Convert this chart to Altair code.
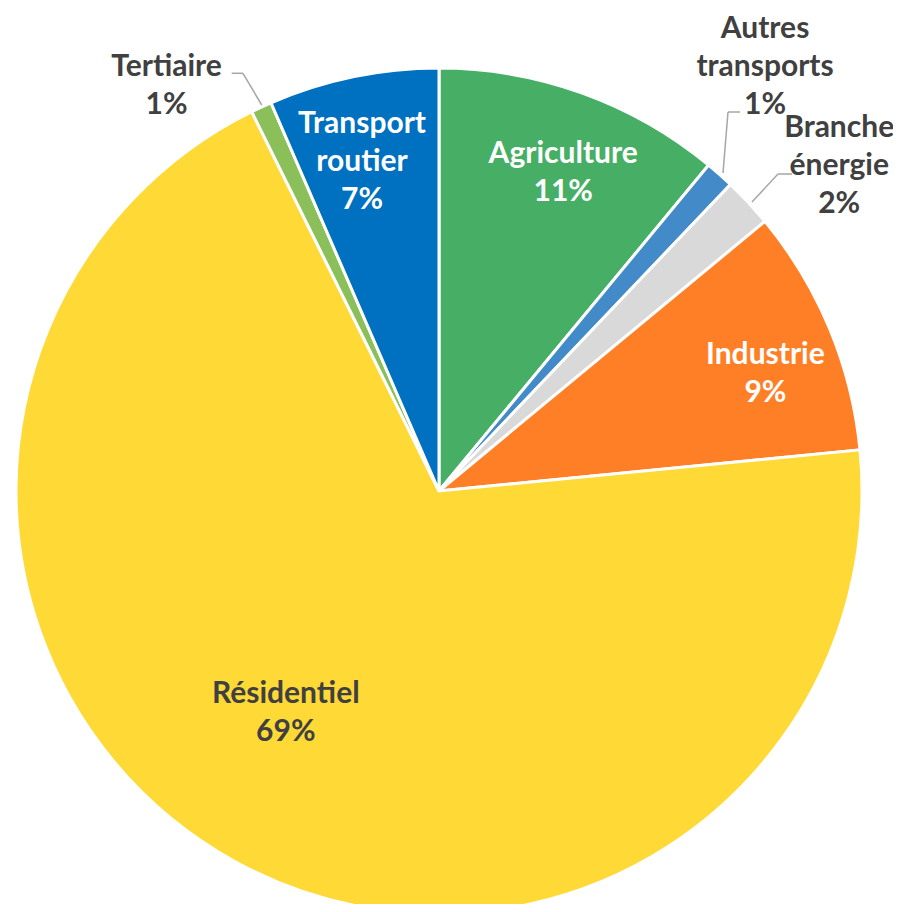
import altair as alt
import pandas as pd

categories = ["Agriculture", "Autres transports", "Branche énergie", "Industrie",
              "Résidentiel", "Tertiaire", "Transport routier"]
label_names = ["Agriculture", "Autres\ntransports", "Branche\nénergie", "Industrie",
               "Résidentiel", "Tertiaire", "Transport\nroutier"]
values = [11.0, 1.1, 1.9, 9.45, 69.25, 0.8, 6.5]
pct_labels = ["11%", "1%", "2%", "9%", "69%", "1%", "7%"]
colors = ["#47AE65", "#428BC8", "#D9D9D9", "#FF7F27", "#FFD935", "#8ABF5A", "#0070C0"]

df = pd.DataFrame({
    "category": categories,
    "value": values,
    "order": list(range(len(categories))),
    "label": [n + "\n" + p for n, p in zip(label_names, pct_labels)],
})

CX, CY, R = 431, 483, 423
FONT = "Lato"

base = alt.Chart(df).encode(
    theta=alt.Theta("value:Q", stack=True),
    order=alt.Order("order:Q", sort="ascending"),
)

arcs = base.mark_arc(outerRadius=R, stroke="white", strokeWidth=3).encode(
    color=alt.Color("category:N", scale=alt.Scale(domain=categories, range=colors), legend=None),
    x=alt.value(CX), y=alt.value(CY),
)

# per-label styling: (category, radius, dx, dy, color)
label_style = [
    ("Agriculture", 343, 8, -14, "white"),
    ("Industrie", 347, 6, -3, "white"),
    ("Transport routier", 340, -8, -34, "white"),
    ("Résidentiel", 268, -23, -31, "#404040"),
    ("Tertiaire", 489, -67, 20, "#404040"),
    ("Autres transports", 538, -31, -60, "#404040"),
    ("Branche énergie", 520, 20, -8, "#404040"),
]

layers = [arcs]
for cat, rad, dx, dy, col in label_style:
    layers.append(
        base.mark_text(radius=rad, dx=dx, dy=dy, font=FONT, fontSize=30, fontWeight="bold",
                       lineBreak="\n", lineHeight=38, align="center", baseline="middle",
                       color=col).encode(
            text=alt.condition(f"datum.category == '{cat}'", alt.Text("label:N"), alt.value("")),
            detail="category:N",
            x=alt.value(CX), y=alt.value(CY),
        )
    )

# leader lines for outside labels
leaders = [
    ((223.7, 65.3), (235, 65.3)), ((235, 65.3), (253.7, 97)),
    ((720, 104), (732, 104)), ((720, 104), (715, 165)),
    ((770, 166), (784, 166)), ((770, 166), (744, 194)),
]
for (x1, y1), (x2, y2) in leaders:
    layers.append(
        alt.Chart(pd.DataFrame({"a": [0]})).mark_rule(color="#A6A6A6", strokeWidth=1.5).encode(
            x=alt.value(x1), y=alt.value(y1), x2=alt.value(x2), y2=alt.value(y2)
        )
    )

chart = alt.layer(*layers).properties(
    width=885, height=896, padding=0,
    autosize=alt.AutoSizeParams(type="none"),
).configure_view(stroke=None)

chart.save("out.html", embed_options={"renderer": "svg", "actions": False})
